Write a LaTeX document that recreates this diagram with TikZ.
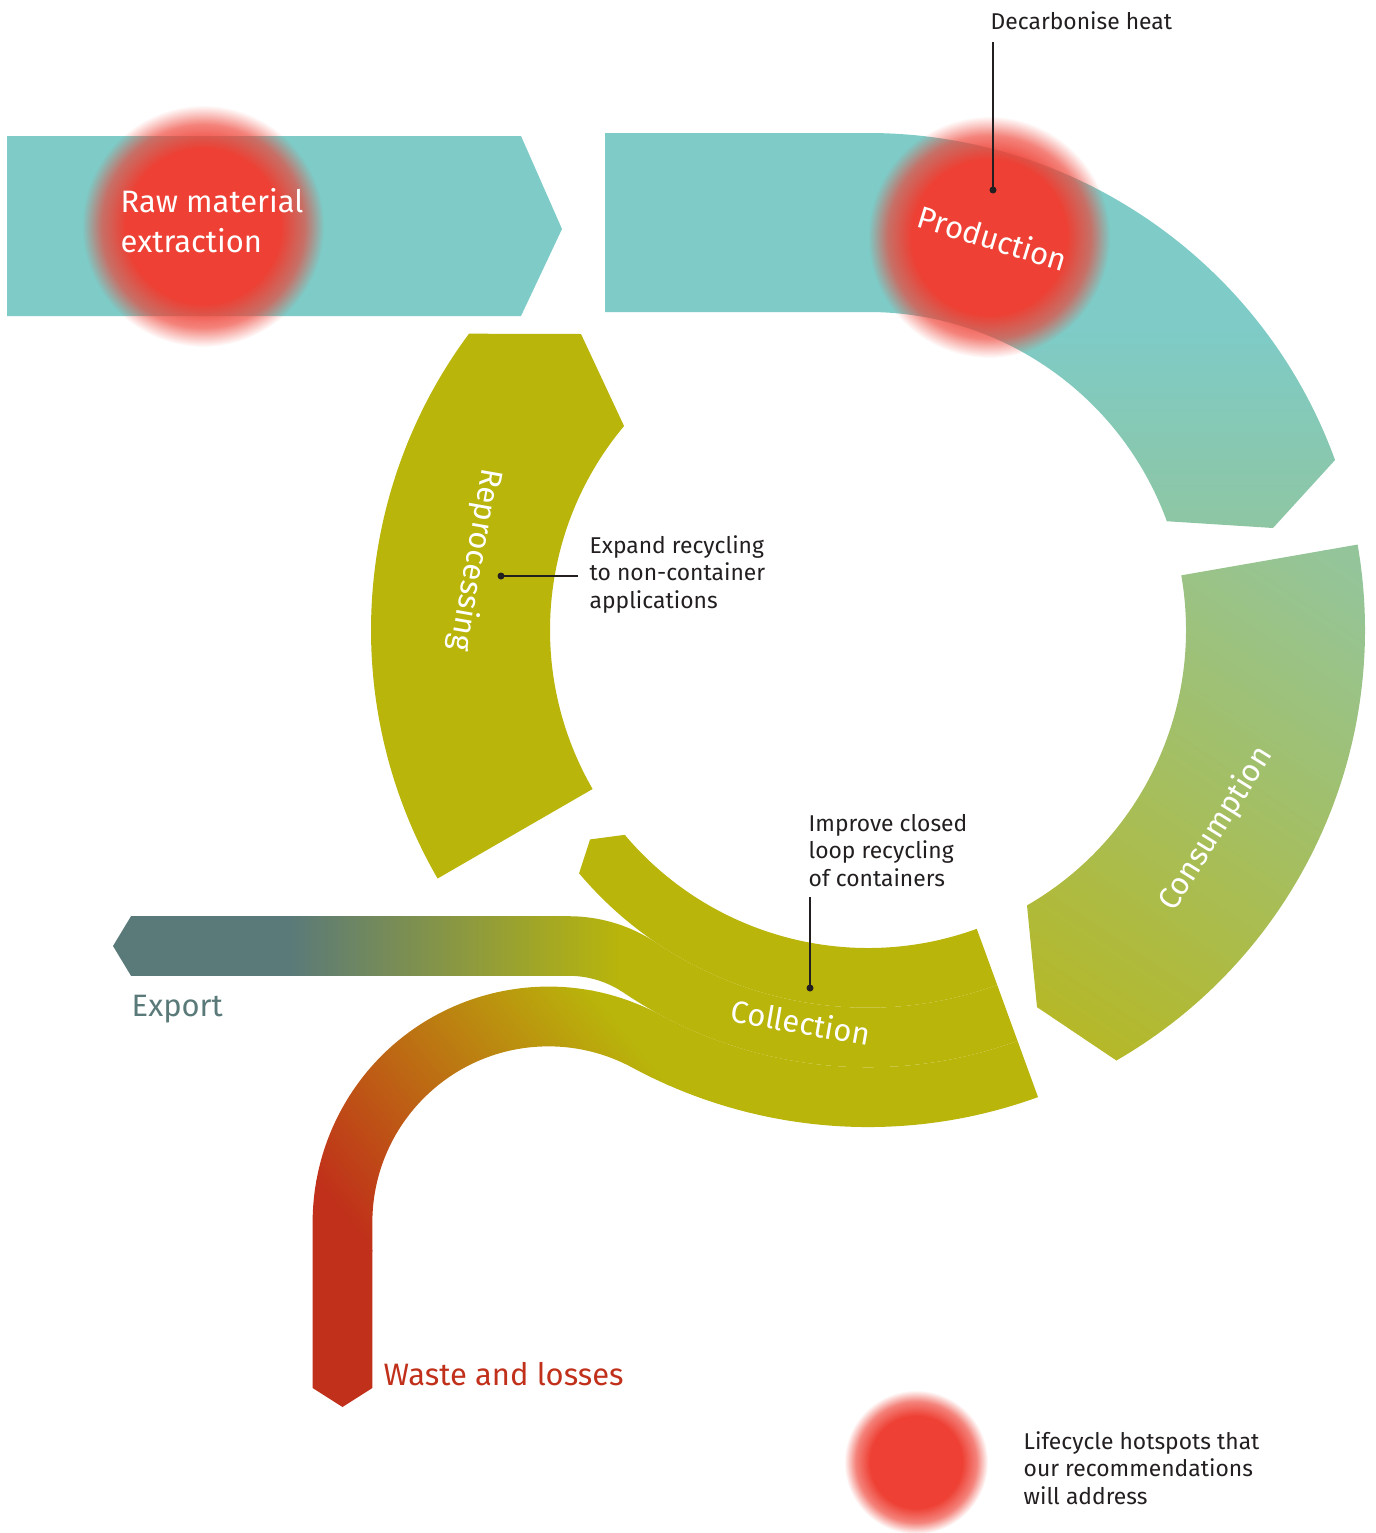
\documentclass[tikz,border=0pt]{standalone}
\usepackage{fontspec}
\setmainfont{Fira Sans}
\usetikzlibrary{calc,fadings}

\definecolor{bandteal}{RGB}{126,203,199}
\definecolor{prodgreen}{RGB}{142,198,162}
\definecolor{contop}{RGB}{148,197,154}
\definecolor{conbot}{RGB}{181,184,40}
\definecolor{olive}{RGB}{185,181,11}
\definecolor{exportslate}{RGB}{90,122,121}
\definecolor{wasteorange}{RGB}{190,108,24}
\definecolor{wastered}{RGB}{192,48,26}
\definecolor{hotred}{RGB}{238,64,52}
\definecolor{notegray}{RGB}{35,31,32}

\pgfdeclareradialshading{hotshade}{\pgfpointorigin}{color(0pt)=(pgftransparent!0); color(16pt)=(pgftransparent!0); color(21pt)=(pgftransparent!35); color(25pt)=(pgftransparent!100); color(50pt)=(pgftransparent!100)}
\pgfdeclarefading{hotfade}{\pgfuseshading{hotshade}}

\begin{document}
\begin{tikzpicture}[x=0.01cm, y=0.01cm]
	\tikzset{bandtext/.style={text=white, font=\fontsize{8.8}{11.1}\selectfont, inner sep=0pt}};
	\tikzset{note/.style={text=notegray, font=\fontsize{6.5}{7.7}\selectfont, align=left, inner sep=0pt, anchor=base west}};
	\tikzset{hotspot/.style={fill=hotred, path fading=hotfade}};
	\tikzset{leader/.style={draw=notegray, line width=0.4pt}};
	\tikzset{dot/.style={fill=notegray}};

	\useasboundingbox (0,0) rectangle (1376,-1533);
	\coordinate (C) at (868,-630);

	% raw material
	\fill[bandteal] (7,-136) -- (521,-136) -- (562,-229) -- (521,-316) -- (7,-316) -- cycle;

	% production
	\begin{scope}
		\clip (605,-133) -- (868,-133) arc[start angle=90, end angle=20, radius=497] -- (1273,-528) -- ($(C)+(20:318)$) arc[start angle=20, end angle=90, radius=318] -- (605,-312) -- cycle;
		\fill[bandteal] (600,-100) rectangle (1400,-330);
		\shade[top color=bandteal, bottom color=prodgreen] (600,-330) rectangle (1400,-530);
	\end{scope}

	% consumption
	\begin{scope}
		\clip ($(C)+(9.9:497)$) arc[start angle=9.9, end angle=-60, radius=497] -- (1037,-1007) -- ($(C)+(-60:318)$) arc[start angle=-60, end angle=9.9, radius=318] -- cycle;
		\begin{scope}[transform canvas={rotate around={-123.7:(1340,-560)}}]
			\fill[contop] (740,-1200) rectangle (1341,80);
			\shade[left color=contop, right color=conbot] (1340,-1200) rectangle (1881,80);
			\fill[conbot] (1880,-1200) rectangle (2600,80);
		\end{scope}
	\end{scope}

	% collection, inner stream
	\fill[olive] ($(C)+(-70:318)$) arc[start angle=-70, end angle=-139.9, radius=318] -- ($(C)+(-143:348)$) -- ($(C)+(-139.9:377.7)$) arc[start angle=-139.9, end angle=-70, radius=377.7] -- cycle;

	% export
	\begin{scope}
		\clip ($(C)+(-70:377.7)$) arc[start angle=-70, end angle=-124, radius=377.7] arc[start angle=56, end angle=90, radius=157.5] -- (131,-916.2) -- (113,-946) -- (131,-975.8) -- (568.7,-975.8) arc[start angle=90, end angle=56, radius=97.9] arc[start angle=-124, end angle=-70, radius=437.3] -- cycle;
		\fill[exportslate] (100,-850) rectangle (291,-1150);
		\shade[left color=exportslate, right color=olive] (290,-850) rectangle (621,-1150);
		\fill[olive] (620,-850) rectangle (1100,-1150);
	\end{scope}

	% waste
	\begin{scope}
		\clip ($(C)+(-70:437.3)$) arc[start angle=-70, end angle=-118.34, radius=437.3] arc[start angle=61.66, end angle=180, radius=235.85] -- (312.65,-1388) -- (342.5,-1407) -- (372.35,-1388) -- (372.35,-1222.5) arc[start angle=180, end angle=61.66, radius=176.15] arc[start angle=-118.34, end angle=-70, radius=497] -- cycle;
		\begin{scope}[transform canvas={rotate around={-141.1:(600,-1000)}}]
			\fill[olive] (0,-1600) rectangle (601,-400);
			\shade[left color=olive, middle color=wasteorange, right color=wastered] (600,-1600) rectangle (935,-400);
			\fill[wastered] (934,-1600) rectangle (1800,-400);
		\end{scope}
	\end{scope}

	% reprocessing
	\fill[olive] ($(C)+(210:497)$) arc[start angle=210, end angle=143.4, radius=497] -- (581,-334) -- ($(C)+(140.1:318)$) arc[start angle=140.1, end angle=210, radius=318] -- cycle;

	% hotspots
	\fill[hotspot] (203,-226) circle[radius=121];
	\fill[hotspot] (989,-237) circle[radius=121];
	\fill[hotspot] (916,-1462) circle[radius=72];

	\node[bandtext, anchor=base west, align=left] (raw) at (120,-252) {Raw material\\extraction};
	\node[bandtext, rotate=-17] (prod) at (993,-238) {Production};
	\node[bandtext, rotate=-100] (repro) at (475,-560) {Reprocessing};
	\node[bandtext, rotate=58] (cons) at (1216,-829) {Consumption};
	\node[bandtext, rotate=-10] (coll) at (801,-1022) {Collection};
	\node[bandtext, text=exportslate, anchor=base west] (export) at (131,-1016) {Export};
	\node[bandtext, text=wastered, anchor=base west] (waste) at (383,-1385) {Waste and losses};

	\node[note] (decarb) at (990,-29) {Decarbonise heat};
	\node[note] (expand) at (589,-608) {Expand recycling\\to non-container\\applications};
	\node[note] (improve) at (808,-886) {Improve closed\\loop recycling\\of containers};
	\node[note] (legend) at (1023,-1504) {Lifecycle hotspots that\\our recommendations\\will address};

	\coordinate (decarbtop) at (993,-42);
	\coordinate (decarbdot) at (993,-190);
	\coordinate (expandend) at (578,-576);
	\coordinate (expanddot) at (501,-576);
	\coordinate (improvetop) at (810,-897);
	\coordinate (improvedot) at (810,-988);

	\draw[leader] (decarbtop) -- (decarbdot);
	\draw[leader] (expandend) -- (expanddot);
	\draw[leader] (improvetop) -- (improvedot);
	\fill[dot] (decarbdot) circle[radius=3.5];
	\fill[dot] (expanddot) circle[radius=3.5];
	\fill[dot] (improvedot) circle[radius=3.5];
\end{tikzpicture}
\end{document}
